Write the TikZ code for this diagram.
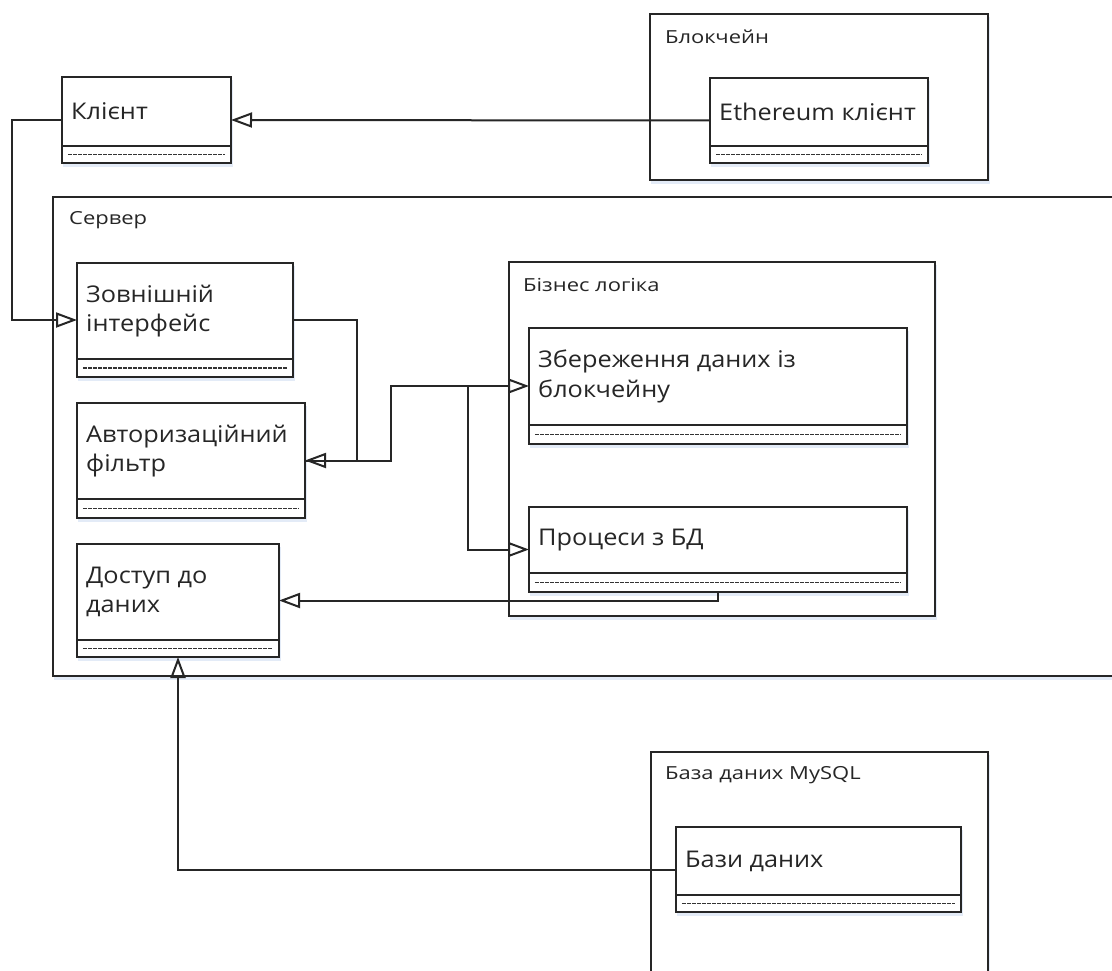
\documentclass[tikz,border=0pt]{standalone}
\usepackage{fontspec}
\setmainfont{Open Sans}
\newfontfamily\classfont[FakeStretch=1.1]{Open Sans}
\newfontfamily\labelfont[FakeStretch=1.22]{Open Sans}
\usetikzlibrary{arrows.meta,calc}

\tikzset{
  box/.style={draw=black!85, line width=2pt, fill=white, inner sep=0pt, outer sep=0pt},
  classbox/.style={box},
  container/.style={box},
  shadowfill/.style={fill={rgb,255:red,220;green,231;blue,246}, opacity=0.8},
  rule/.style={draw=black!85, line width=2pt},
  dotrule/.style={draw=black!80, line width=1.4pt, dash pattern=on 3.5pt off 1.5pt},
  classtext/.style={inner sep=0pt, align=left, text=black!85, font=\classfont\fontsize{23}{29.5}\selectfont},
  grouplabel/.style={inner sep=0pt, anchor=west, text=black!85, font=\labelfont\fontsize{18}{20}\selectfont},
  conn/.style={draw=black!85, line width=2pt, -{Triangle[open, length=21pt, width=15pt, line width=2pt]}},
}

% container box: name, x1, y1, x2, y2
\newcommand{\groupbox}[5]{%
  \pgfmathsetmacro\gw{#4-#2}\pgfmathsetmacro\gh{#5-#3}%
  \fill[shadowfill] (#2+1,#3+3) rectangle (#4+2,#5+4);
  \node[container, minimum width=\gw pt, minimum height=\gh pt, anchor=north west] (#1) at (#2,#3) {};
}

% UML class: name, x1, y1, x2, y2, divider y, title
\newcommand{\umlclass}[7]{%
  \pgfmathsetmacro\cw{#4-#2}\pgfmathsetmacro\ch{#5-#3}%
  \fill[shadowfill] (#2+1,#3+3) rectangle (#4+2,#5+4);
  \node[classbox, minimum width=\cw pt, minimum height=\ch pt, anchor=north west] (#1) at (#2,#3) {};
  \draw[rule] (#2,#6) -- (#4,#6);
  \draw[dotrule] (#2+6,{(#6+#5)/2}) -- (#4-6,{(#6+#5)/2});
  \node[classtext, anchor=west] (#1-t) at (#2+9,{(#3+#6)/2}) {#7};
}

\begin{document}
\begin{tikzpicture}[x=1pt, y=-1pt]
  \useasboundingbox (0,0) rectangle (1112,971);
  \fill[white] (0,0) rectangle (1112,971);
  \clip (0,0) rectangle (1112,971);

  % containers
  \groupbox{chain}{650}{14}{988}{180}
  \node[grouplabel] (chain-l) at (665,37) {Блокчейн};

  \groupbox{server}{53}{197}{1135}{676}
  \node[grouplabel] (server-l) at (69,220) {Сервер};

  \groupbox{logic}{509}{262}{935}{616}
  \node[grouplabel] (logic-l) at (523,285) {Бізнес логіка};

  \groupbox{mysql}{651}{752}{988}{995}
  \node[grouplabel] (mysql-l) at (665,775) {База даних MySQL};

  % classes
  \umlclass{client}{62}{77}{231}{163}{146}{Клієнт}
  \umlclass{eth}{710}{78}{928}{163}{146}{Ethereum клієнт}
  \umlclass{ext}{77}{263}{293}{377}{359}{Зовнішній\\інтерфейс}
  \umlclass{auth}{77}{403}{305}{518}{499}{Авторизаційний\\фільтр}
  \umlclass{access}{77}{544}{279}{657}{640}{Доступ до\\даних}
  \umlclass{store}{529}{328}{907}{444}{425}{Збереження даних із\\блокчейну}
  \umlclass{proc}{529}{507}{907}{592}{573}{Процеси з БД}
  \umlclass{db}{676}{827}{961}{912}{895}{Бази даних}

  % connectors
  \draw[conn] (eth.west) -- (client.east);
  \draw[conn] (client.west) -- ++(-50,0) |- (ext.west);
  \draw[conn] (ext.east) -- ++(64,0) |- (auth.east);
  \draw[conn] (auth.east) -- ++(86,0) |- (store.west);
  \coordinate (split) at ($(store.west)+(-61,0)$);
  \draw[conn] (split) |- (proc.west);
  \draw[conn] (proc.south) |- (access.east);
  \draw[conn] (db.west) -| (access.south);
\end{tikzpicture}
\end{document}
